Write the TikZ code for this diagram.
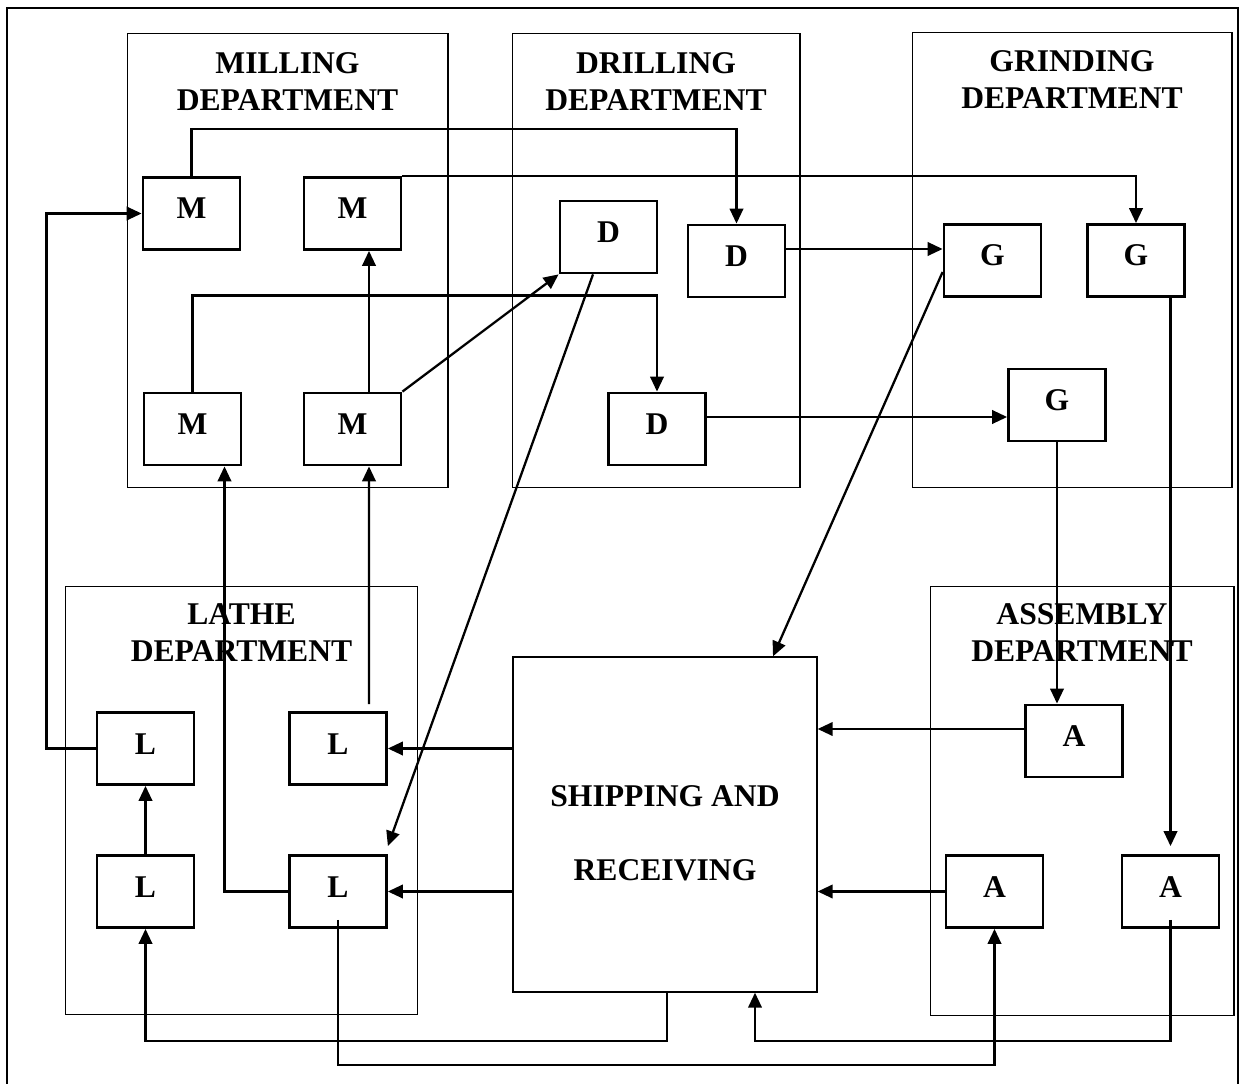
\documentclass[tikz,border=0pt]{standalone}
\usepackage{fontspec}
\setmainfont{Liberation Serif}
\usetikzlibrary{arrows.meta,calc}
\newcommand{\bigbf}{\fontsize{18}{21.3}\selectfont\bfseries}
\begin{document}
\begin{tikzpicture}[x=0.02cm,y=-0.02cm,
  conn/.style={line width=1.3pt,-{Triangle[length=0.3cm,width=0.27cm]}},
  machine/.style={draw,line width=1.6pt,minimum width=1.94cm,minimum height=1.44cm,inner sep=0pt,font=\bigbf,text height=0.42cm,text depth=0.2cm},
  dept/.style={draw,line width=0.6pt,inner sep=0pt},
  title/.style={align=center,inner sep=0pt,anchor=north,font=\bigbf}]
\useasboundingbox (0,0) rectangle (1244,1084);
% outer frame
\draw[line width=0.6pt] (7,1084) -- (7,8) -- (1238,8) -- (1238,1084);
% departments
\node[dept,minimum width=6.42cm,minimum height=9.1cm] (mill) at (287.5,260.5) {};
\node[dept,minimum width=5.76cm,minimum height=9.1cm] (drill) at (656,260.5) {};
\node[dept,minimum width=6.4cm,minimum height=9.12cm] (grind) at (1072,260) {};
\node[dept,minimum width=7.06cm,minimum height=8.58cm] (lathe) at (241.5,800.5) {};
\node[dept,minimum width=6.08cm,minimum height=8.6cm] (assem) at (1082,801) {};
\node[dept,line width=0.8pt,minimum width=6.08cm,minimum height=6.7cm] (ship) at (665,824.5) {};
\node[title,font=\fontsize{18}{42}\selectfont\bfseries] (shiptxt) at (665,785) {SHIPPING AND\\RECEIVING};
% titles
\node[title] (tmill) at (287.5,52) {MILLING\\DEPARTMENT};
\node[title] (tdrill) at (656,52) {DRILLING\\DEPARTMENT};
\node[title] (tgrind) at (1072,50) {GRINDING\\DEPARTMENT};
\node[title] (tlathe) at (241.5,603) {LATHE\\DEPARTMENT};
\node[title] (tassem) at (1082,603) {ASSEMBLY\\DEPARTMENT};
% machines
\node[machine] (M1) at (191.5,213.5) {M};
\node[machine] (M2) at (352.5,213.5) {M};
\node[machine] (M3) at (192.5,429) {M};
\node[machine] (M4) at (352.5,429) {M};
\node[machine] (D1) at (608.5,237) {D};
\node[machine] (D2) at (736.5,261) {D};
\node[machine] (D3) at (657,429) {D};
\node[machine] (G1) at (992.5,260.5) {G};
\node[machine] (G2) at (1136,260.5) {G};
\node[machine] (G3) at (1057,405) {G};
\node[machine] (L1) at (145.5,748.5) {L};
\node[machine] (L2) at (338,748.5) {L};
\node[machine] (L3) at (145.5,891.5) {L};
\node[machine] (L4) at (338,891.5) {L};
\node[machine] (A1) at (1074,741) {A};
\node[machine] (A2) at (994.5,891.5) {A};
\node[machine] (A3) at (1170.5,891.5) {A};
% helper coordinates
\coordinate (d2o) at ($(D2.east)+(0,-12)$);
\coordinate (d3o) at ($(D3.east)+(0,-12)$);
\coordinate (a1o) at ($(A1.west)+(0,-12)$);
% connectors
\draw[conn] (M1.north) -- ++(0,-47) -| (D2.north);
\draw[conn] (M2.north east) -| (G2.north);
\draw[conn] (M3.north) -- ++(0,-96) -| (D3.north);
\draw[conn] ($(M4.north)+(16.5,0)$) -- ($(M2.south)+(16.5,0)$);
\draw[conn] (M4.north east) -- (D1.south west);
\draw[conn] ($(D1.south)+(-15.5,0)$) -- ($(L4.north east)+(0,-8)$);
\draw[conn] (d2o) -- (d2o -| G1.west);
\draw[conn] (d3o) -- (d3o -| G3.west);
\draw[conn] ($(G1.west)+(0,11.5)$) -- ($(ship.north)+(108,0)$);
\draw[conn] (G2.south -| A3.north) -- ($(A3.north)+(0,-8)$);
\draw[conn] (G3.south) -- (G3.south |- A1.north);
\draw[conn] (a1o) -- (a1o -| ship.east);
\draw[conn] (A2.west) -- (A2.west -| ship.east);
\draw[conn] (L2.east -| ship.west) -- (L2.east);
\draw[conn] (L4.east -| ship.west) -- (L4.east);
\draw[conn] (L1.west) -- ++(-49,0) |- (M1.west);
\draw[conn] (L3.north) -- (L1.south);
\draw[conn] ($(L2.north)+(31,-7)$) -- ($(M4.south)+(16.5,0)$);
\draw[conn] (L4.west) -| ($(M3.south)+(32,0)$);
\draw[conn] ($(L4.south)+(0,-9)$) |- ($(A2.south)+(0,136)$) -- (A2.south);
\draw[conn] ($(ship.south)+(2,0)$) -- ++(0,48) -| (L3.south);
\draw[conn] ($(A3.south)+(0,-9)$) -- ++(0,121) -| ($(ship.south)+(90,0)$);
\end{tikzpicture}
\end{document}
